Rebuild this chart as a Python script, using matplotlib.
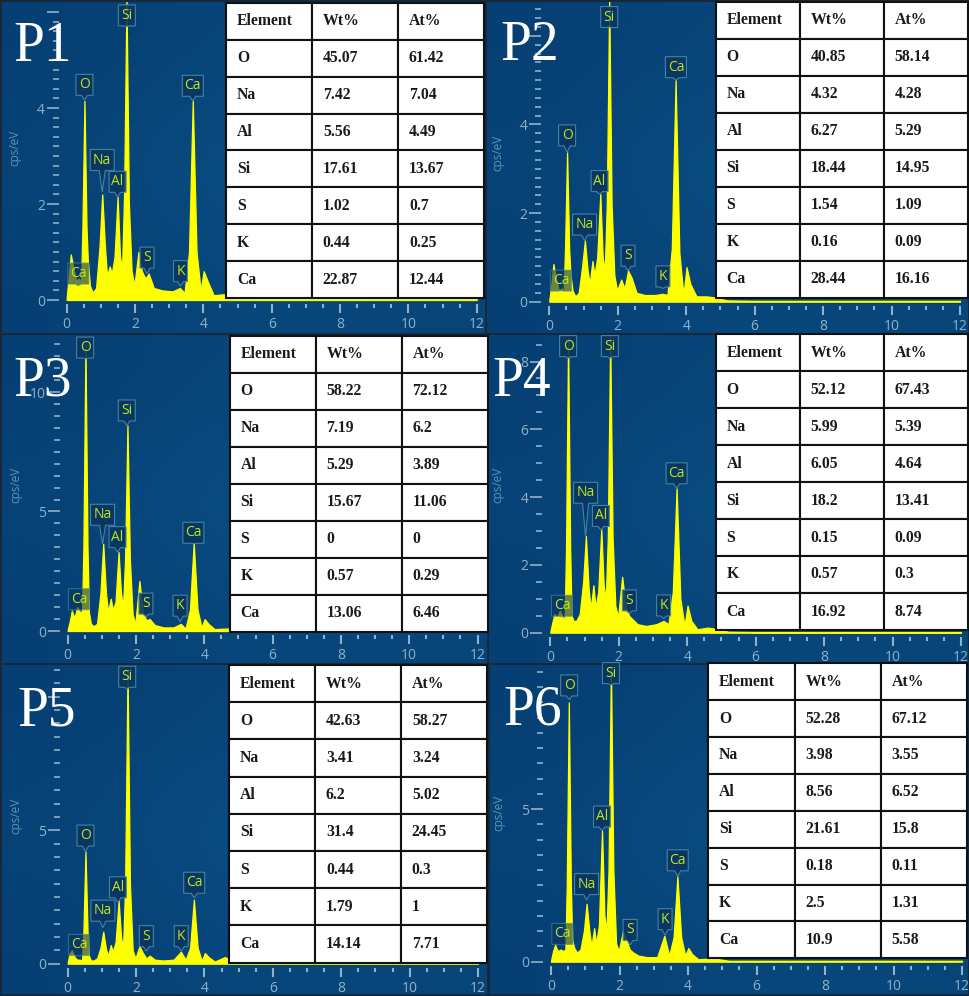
import numpy as np
import matplotlib
matplotlib.use("Agg")
import matplotlib.pyplot as plt
from matplotlib.patches import Polygon

W, H = 969, 996
SANS = ["Open Sans", "DejaVu Sans"]
SERIF = ["Liberation Serif", "DejaVu Serif"]

energy = [0, .06, .12, .20, .28, .36, .42, .46, .52, .58, .62, .68, .76, .86, .96, 1.04, 1.12, 1.18, 1.26, 1.32,
          1.40, 1.49, 1.56, 1.62, 1.68, 1.75, 1.82, 1.90, 1.98, 2.10, 2.20, 2.30, 2.40, 2.55, 2.80, 3.10, 3.31,
          3.45, 3.58, 3.69, 3.80, 3.92, 4.01, 4.12, 4.30, 4.60, 4.80, 5.2, 6, 8, 10, 12]

p1_counts = [.05, .5, .95, .65, .4, .45, .35, 1.5, 4.15, 1.5, .8, .3, .15, .25, 1.1, 2.2, 1.1, .5, .7, .55,
             .9, 2.15, .9, .65, 2.2, 6.3, 2.0, .6, .3, 1.0, .6, .45, .55, .25, .2, .18, .25,
             .15, 1.0, 4.15, 1.0, .2, .6, .4, .1, .12, .1, .03, .02, .02, .02, .02]
p2_counts = [.03, .4, .85, .5, .25, .3, .2, 1.2, 3.37, 1.2, .6, .25, .12, .2, .8, 1.38, .7, .4, .92, .6,
             1.0, 2.43, 1.0, .7, 2.2, 6.8, 2.2, .6, .25, .5, .3, .7, .55, .2, .15, .15, .18,
             .15, 1.2, 5.0, 1.1, .15, .78, .4, .12, .12, .1, .03, .02, .02, .02, .02]
p3_counts = [.05, .4, .85, .55, 1.0, .8, .8, 3.5, 12, 3.5, .8, .3, .2, .3, 1.6, 3.65, 1.6, .8, 1.35, .9,
             1.2, 3.3, 1.6, 1.0, 3.0, 8.6, 3.0, .7, .3, 2.1, .8, .45, .5, .25, .15, .15, .3,
             .1, .9, 3.7, .9, .15, .5, .3, .08, .1, .1, .03, .03, .03, .03, .03]
p4_counts = [.03, .3, .55, .45, .65, .45, .4, 2.5, 8.7, 2.5, .5, .35, .35, .55, 1.5, 2.85, 1.3, .7, 1.4, .75,
             1.2, 3.05, 1.4, .95, 2.8, 8.75, 2.8, .8, .45, 1.65, .8, .5, .4, .25, .2, .25, .35,
             .25, 1.2, 4.26, 1.0, .2, .8, .35, .1, .15, .12, .03, .02, .02, .02, .02]
p5_counts = [.05, .4, .5, .25, .15, .15, .1, 1.2, 4.2, 1.2, .3, .12, .12, .2, .6, 1.2, .55, .3, .7, .45,
             .8, 2.35, 1.0, .6, 3.0, 11, 3.0, .5, .2, .65, .4, .2, .3, .15, .12, .15, .45,
             .15, .6, 2.4, .6, .1, .4, .25, .08, .25, .1, .03, .03, .03, .03, .03]
p6_counts = [.03, .35, .55, .35, .4, .35, .4, 2.5, 8.5, 2.5, .7, .45, .3, .4, 1.0, 1.9, 1.0, .5, 1.1, .6,
             1.2, 4.3, 1.5, 1.0, 3.0, 9.7, 3.0, .6, .35, 1.0, .7, .4, .3, .2, .15, .15, .85,
             .2, .8, 2.8, .8, .2, .45, .25, .08, .1, .1, .03, .03, .03, .03, .03]

elements = ["O", "Na", "Al", "Si", "S", "K", "Ca"]
p1_wt = ["45.07", "7.42", "5.56", "17.61", "1.02", "0.44", "22.87"]
p1_at = ["61.42", "7.04", "4.49", "13.67", "0.7", "0.25", "12.44"]
p2_wt = ["40.85", "4.32", "6.27", "18.44", "1.54", "0.16", "28.44"]
p2_at = ["58.14", "4.28", "5.29", "14.95", "1.09", "0.09", "16.16"]
p3_wt = ["58.22", "7.19", "5.29", "15.67", "0", "0.57", "13.06"]
p3_at = ["72.12", "6.2", "3.89", "11.06", "0", "0.29", "6.46"]
p4_wt = ["52.12", "5.99", "6.05", "18.2", "0.15", "0.57", "16.92"]
p4_at = ["67.43", "5.39", "4.64", "13.41", "0.09", "0.3", "8.74"]
p5_wt = ["42.63", "3.41", "6.2", "31.4", "0.44", "1.79", "14.14"]
p5_at = ["58.27", "3.24", "5.02", "24.45", "0.3", "1", "7.71"]
p6_wt = ["52.28", "3.98", "8.56", "21.61", "0.18", "2.5", "10.9"]
p6_at = ["67.12", "3.55", "6.52", "15.8", "0.11", "1.31", "5.58"]

# element tags: name, energy, value at the tip, tip-to-box-centre rise (px)
p1_tags = [("Ca", .34, .30, 12), ("O", .52, 4.17, 15), ("Na", 1.04, 2.25, 32), ("Al", 1.49, 2.15, 15),
           ("Si", 1.76, 5.7, 11), ("S", 2.35, .55, 16), ("K", 3.33, .29, 15), ("Ca", 3.69, 4.15, 15)]
p2_tags = [("Ca", .34, .25, 10), ("O", .52, 3.37, 17), ("Na", 1.03, 1.38, 16), ("Al", 1.47, 2.43, 13),
           ("Si", 1.75, 6.2, 10), ("S", 2.30, .7, 15), ("K", 3.32, .3, 12), ("Ca", 3.70, 5.0, 13)]
p3_tags = [("Ca", .33, .87, 11), ("O", .51, 11.4, 11), ("Na", 1.02, 3.65, 29), ("Al", 1.46, 3.3, 15),
           ("Si", 1.73, 8.6, 15), ("S", 2.29, .6, 13), ("K", 3.29, .39, 16), ("Ca", 3.68, 3.65, 11)]
p4_tags = [("Ca", .34, .47, 11), ("O", .52, 8.1, 12), ("Na", 1.03, 2.83, 44), ("Al", 1.48, 3.03, 14),
           ("Si", 1.74, 8.1, 12), ("S", 2.31, .57, 13), ("K", 3.31, .42, 13), ("Ca", 3.69, 4.26, 15)]
p5_tags = [("Ca", .33, .29, 11), ("O", .52, 4.2, 16), ("Na", 1.03, 1.35, 17), ("Al", 1.47, 2.3, 15),
           ("Si", 1.74, 10.3, 12), ("S", 2.30, .47, 15), ("K", 3.32, .47, 15), ("Ca", 3.70, 2.47, 15)]
p6_tags = [("Ca", .33, .55, 11), ("O", .53, 8.6, 14), ("Na", 1.04, 2.02, 16), ("Al", 1.49, 4.3, 14),
           ("Si", 1.75, 9.07, 12), ("S", 2.31, .55, 15), ("K", 3.33, .87, 16), ("Ca", 3.70, 2.8, 16)]

panels = [
    dict(name="P1", counts=p1_counts, wt=p1_wt, at=p1_at, tags=p1_tags, rect=(2, 2, 485, 333), x0=66.7, x12=476.7,
         y0=300, ppu=48, major=[0, 2, 4, 6], labelled=[0, 2, 4], minor=.2, top=6.0,
         table=(226, 2.7, 484.3, 298.3), ylab=(15, 148), title=(13, 61)),
    dict(name="P2", counts=p2_counts, wt=p2_wt, at=p2_at, tags=p2_tags, rect=(487, 2, 968, 333), x0=549.3, x12=960,
         y0=301.7, ppu=44.3, major=[0, 2, 4, 6], labelled=[0, 2, 4], minor=.2, top=6.6,
         table=(716, 2, 968, 297.7), ylab=(498, 153), title=(500, 60)),
    dict(name="P3", counts=p3_counts, wt=p3_wt, at=p3_at, tags=p3_tags, rect=(2, 335, 487, 663), x0=67.7, x12=477.5,
         y0=631, ppu=23.9, major=[0, 5, 10], labelled=[0, 5, 10], minor=.5, top=12,
         table=(229.7, 336, 487.7, 631.7), ylab=(16, 485), title=(13, 395)),
    dict(name="P4", counts=p4_counts, wt=p4_wt, at=p4_at, tags=p4_tags, rect=(489, 335, 968, 663), x0=550.3, x12=961,
         y0=632.7, ppu=33.9, major=[0, 2, 4, 6, 8], labelled=[0, 2, 4, 6, 8], minor=.5, top=8.5,
         table=(716, 334, 968, 630), ylab=(498, 485), title=(492, 396)),
    dict(name="P5", counts=p5_counts, wt=p5_wt, at=p5_at, tags=p5_tags, rect=(2, 665, 487, 994), x0=67.7, x12=478,
         y0=963.7, ppu=26.7, major=[0, 5, 10], labelled=[0, 5], minor=.5, top=11,
         table=(229.3, 665, 487, 962.7), ylab=(16, 816), title=(17, 725)),
    dict(name="P6", counts=p6_counts, wt=p6_wt, at=p6_at, tags=p6_tags, rect=(490, 665, 968, 994), x0=551, x12=962,
         y0=961.7, ppu=30.5, major=[0, 5], labelled=[0, 5], minor=.5, top=9.5,
         table=(708.3, 663.3, 967.3, 958.3), ylab=(499, 813), title=(503, 724)),
]

TICK = "#8FB2C9"
LABEL = "#5F93B4"
TAG_W = {"O": 17, "Na": 24, "Al": 17, "Si": 17, "S": 14, "K": 14, "Ca": 21}


def px_axes(l, t, r, b, **kw):
    return fig.add_axes([l / W, 1 - b / H, (r - l) / W, (b - t) / H], **kw)


fig = plt.figure(figsize=(W / 100, H / 100), dpi=100, facecolor="#16283a")

bg = px_axes(0, 0, W, H, zorder=0)
overlay = px_axes(0, 0, W, H, zorder=2)
overlay.patch.set_alpha(0)
shade = np.array([[.0, .35, .15], [.25, .9, .5], [.0, .45, .3]])
for p in panels:
    l, t, r, b = p["rect"]
    bg.imshow(shade, extent=(l, r, b, t), aspect="auto", interpolation="bicubic",
              cmap=matplotlib.colors.LinearSegmentedColormap.from_list("b", ["#063F73", "#0B5288"]), vmin=0, vmax=1)
for a in (bg, overlay):
    a.set_xlim(0, W)
    a.set_ylim(H, 0)
    a.axis("off")

for p in panels:
    l, t, r, b = p["rect"]
    kpu = (p["x12"] - p["x0"]) / 12
    ax_l, ax_r = p["x0"] - 8, p["x12"] + 2
    ax_b = p["y0"] + 4
    ax = px_axes(ax_l, t, ax_r, ax_b, zorder=1)
    ax.patch.set_alpha(0)
    ax.set_xlim(-8 / kpu, 12 + 2 / kpu)
    ax.set_ylim(-4 / p["ppu"], (p["y0"] - t) / p["ppu"])
    for s in ax.spines.values():
        s.set_visible(False)
    ax.fill_between(energy, p["counts"], 0, facecolor="#FFFF00", edgecolor="#FFFF00", lw=0.9)

    ax.set_xticks(np.arange(0, 13, 2))
    ax.set_xticks(np.arange(0, 12.1, .5), minor=True)
    ax.set_yticks(p["major"])
    ax.set_yticklabels([str(v) if v in p["labelled"] else "" for v in p["major"]])
    ax.set_yticks(np.arange(0, p["top"] + 1e-6, p["minor"]), minor=True)
    ax.tick_params(axis="x", which="major", length=6.5, width=1.5, color=TICK, labelcolor=TICK, labelsize=10, pad=3)
    ax.tick_params(axis="x", which="minor", length=3, width=1.5, color=TICK)
    ax.tick_params(axis="y", which="major", length=8.5, width=1.2, color=TICK, labelcolor=TICK, labelsize=10, pad=1.5)
    ax.tick_params(axis="y", which="minor", length=4.2, width=1.2, color=TICK)
    for lab in ax.get_xticklabels() + ax.get_yticklabels():
        lab.set_family(SANS)

    overlay.text(*p["ylab"], "cps/eV", rotation=90, color=LABEL, fontsize=8.5, family=SANS, ha="center", va="center")

    for name, e, v, rise in p["tags"]:
        tx, ty = ax.transData.transform((e, v))
        ty = H - ty
        hw, hh = TAG_W[name] / 2, 10.5
        cy = ty - rise
        verts = [(tx - hw, cy - hh), (tx + hw, cy - hh), (tx + hw, cy + hh), (tx + 3, cy + hh), (tx, ty),
                 (tx - 3, cy + hh), (tx - hw, cy + hh)]
        low_ca = name == "Ca" and e < 1
        overlay.add_patch(Polygon(verts, closed=True, fc="#0A3560", ec="#4B8BA6", lw=.8,
                                  alpha=.6 if low_ca else .9))
        overlay.text(tx, cy, name, color="#BEE81E", fontsize=10, family=SANS, ha="center", va="center")

    tx, ty = p["title"]
    overlay.text(tx, ty, p["name"], color="white", fontsize=40, family=SERIF, ha="left", va="baseline", zorder=6)

    tl, tt, tr, tb = p["table"]
    tax = px_axes(tl, tt, tr, tb, zorder=3)
    tax.axis("off")
    rows = [["Element", "Wt%", "At%"]] + [list(x) for x in zip(elements, p["wt"], p["at"])]
    table = tax.table(cellText=rows, cellLoc="left", bbox=[0, 0, 1, 1])
    table.auto_set_font_size(False)
    table.set_fontsize(11.3)
    for cell in table.get_celld().values():
        cell.set_linewidth(1.5)
        cell.set_edgecolor("#111111")
        cell.set_facecolor("white")
        cell.PAD = .125
        cell.get_text().set_family(SERIF)
        cell.get_text().set_fontweight("bold")
        cell.get_text().set_color("#1a1a1a")

fig.savefig("out.png", dpi=100, facecolor=fig.get_facecolor())
